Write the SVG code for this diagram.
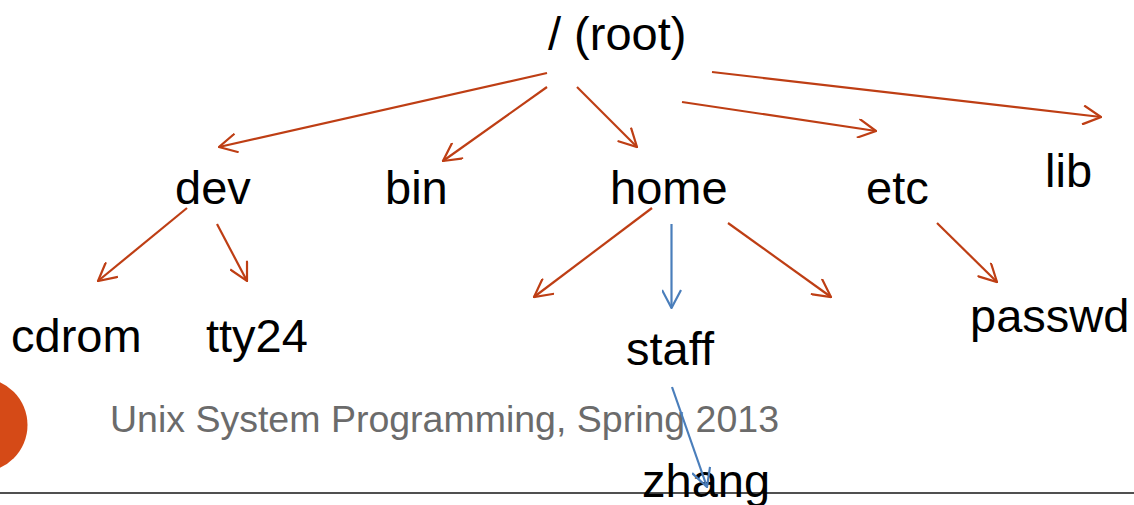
<svg xmlns="http://www.w3.org/2000/svg" width="1134" height="505" viewBox="0 0 1134 505">
  <style>
    .lbl { font-family: "Liberation Sans", Arial, sans-serif; font-size: 47px; fill: #000; }
    .footer { font-family: "Liberation Sans", Arial, sans-serif; font-size: 37.5px; fill: #6b6b6b; }
    .red { stroke: #BE3E14; stroke-width: 2.2; fill: none; marker-end: url(#headRed); }
    .blue { stroke: #4A7EBB; stroke-width: 2.2; fill: none; marker-end: url(#headBlue); }
  </style>
  <defs>
    <marker id="headRed" viewBox="0 0 20 20" refX="19" refY="10" markerWidth="20" markerHeight="20" markerUnits="userSpaceOnUse" orient="auto">
      <path d="M1,0.5 L19,10 L1,19.5" fill="none" stroke="#BE3E14" stroke-width="2.2"/>
    </marker>
    <marker id="headBlue" viewBox="0 0 20 20" refX="19" refY="10" markerWidth="20" markerHeight="20" markerUnits="userSpaceOnUse" orient="auto">
      <path d="M1,0.5 L19,10 L1,19.5" fill="none" stroke="#4A7EBB" stroke-width="2.2"/>
    </marker>
  </defs>

  <rect width="1134" height="505" fill="#fff"/>

  <!-- slide decoration -->
  <circle cx="-19.5" cy="425" r="47" fill="#D54A17"/>
  <line x1="0" y1="493" x2="1134" y2="493" stroke="#505050" stroke-width="2"/>
  <text class="footer" x="110" y="432">Unix System Programming, Spring 2013</text>

  <!-- nodes -->
  <g id="root"><text class="lbl" x="548" y="50">/ (root)</text></g>
  <g id="dev"><text class="lbl" x="175" y="204">dev</text></g>
  <g id="bin"><text class="lbl" x="385" y="204">bin</text></g>
  <g id="home"><text class="lbl" x="610" y="204">home</text></g>
  <g id="etc"><text class="lbl" x="866" y="204">etc</text></g>
  <g id="lib"><text class="lbl" x="1045" y="187">lib</text></g>
  <g id="cdrom"><text class="lbl" x="11" y="352">cdrom</text></g>
  <g id="tty24"><text class="lbl" x="206" y="352">tty24</text></g>
  <g id="staff"><text class="lbl" x="626" y="365">staff</text></g>
  <g id="passwd"><text class="lbl" x="970" y="332">passwd</text></g>
  <g id="zhang"><text class="lbl" x="642" y="497">zhang</text></g>

  <!-- connectors -->
  <g id="connectors">
    <line class="red" x1="547" y1="73" x2="219" y2="147"/>
    <line class="red" x1="547" y1="87" x2="443" y2="161"/>
    <line class="red" x1="577" y1="87" x2="637" y2="147"/>
    <line class="red" x1="682" y1="102" x2="876" y2="131"/>
    <line class="red" x1="712" y1="72" x2="1101" y2="117"/>
    <line class="red" x1="187" y1="208" x2="98" y2="281"/>
    <line class="red" x1="217" y1="224" x2="247" y2="281"/>
    <line class="red" x1="652" y1="208" x2="534" y2="297"/>
    <line class="red" x1="728" y1="223" x2="831" y2="297"/>
    <line class="red" x1="937" y1="223" x2="997" y2="282"/>
    <line class="blue" x1="671.5" y1="224" x2="671.5" y2="308"/>
    <line class="blue" x1="672" y1="387" x2="707" y2="487"/>
  </g>
</svg>
